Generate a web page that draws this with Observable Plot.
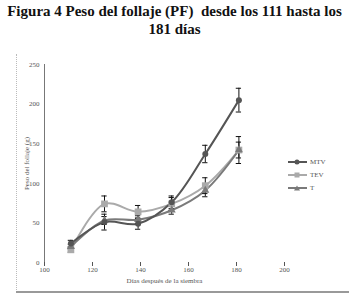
<!DOCTYPE html>
<html><head><meta charset="utf-8">
<script src="https://cdn.jsdelivr.net/npm/d3@7"></script>
<script src="https://cdn.jsdelivr.net/npm/@observablehq/plot@0.6"></script>
<style>
body{margin:0;background:#fff;width:349px;height:297px;overflow:hidden;position:relative;font-family:'Liberation Serif','Times New Roman',serif}
#title{position:absolute;left:0;top:0;width:349px;text-align:center;font-family:'Liberation Serif','Times New Roman',serif;font-weight:bold;font-size:15px;line-height:18px;padding-top:2px;color:#111;white-space:nowrap}
#chart{position:absolute;left:0;top:40px}
#frameL{position:absolute;left:16px;top:54px;height:238px;border-left:1px dotted #bbb}
#frameB{position:absolute;left:16px;top:291px;width:333px;border-bottom:2px solid #999}
#legend{position:absolute;left:288px;top:155px;font-size:7px;color:#555}
#legend div{height:13px;display:flex;align-items:center}
#legend svg{margin-right:3px}
</style></head>
<body>
<div id="title">Figura 4 Peso del follaje (PF)&nbsp; desde los 111 hasta los<br>181 días</div>
<div id="frameL"></div>
<div id="frameB"></div>
<div id="chart"></div>
<div id="legend"></div>
<script>
const days = [111, 125, 139, 153, 167, 181];
const seriesNames = ["MTV", "TEV", "T"];
const mtv = [24, 51, 49, 76, 137, 205];
const tev = [16, 74, 64, 74, 97, 142];
const t = [20, 53, 54, 66, 91, 142];
const mtvErr = [4, 10, 7, 8, 11, 15];
const tevErr = [3, 10, 8, 8, 10, 17];
const tErr = [3, 5, 5, 5, 8, 10];
const xTicks = [100, 120, 140, 160, 180, 200];
const yTicks = [0, 50, 100, 150, 200, 250];

const colors = {MTV: "#555", TEV: "#aaa", T: "#7a7a7a"};
const symbols = {MTV: "circle", TEV: "square", T: "triangle"};
const vals = {MTV: mtv, TEV: tev, T: t};
const errs = {MTV: mtvErr, TEV: tevErr, T: tErr};
const data = seriesNames.flatMap(s => days.map((d, i) => ({series: s, day: d, v: vals[s][i], e: errs[s][i]})));
const order = ["TEV", "T", "MTV"];
const marks = [];
for (const s of order) {
  const sd = data.filter(r => r.series === s);
  marks.push(Plot.line(sd, {x: "day", y: "v", stroke: colors[s], strokeWidth: 2, curve: "catmull-rom"}));
}
marks.push(Plot.ruleX(data, {x: "day", y1: d => d.v - d.e, y2: d => d.v + d.e, stroke: "#111", strokeWidth: 1}));
marks.push(Plot.ruleY(data, {y: d => d.v - d.e, x1: d => d.day - 1.1, x2: d => d.day + 1.1, stroke: "#111", strokeWidth: 1}));
marks.push(Plot.ruleY(data, {y: d => d.v + d.e, x1: d => d.day - 1.1, x2: d => d.day + 1.1, stroke: "#111", strokeWidth: 1}));
for (const s of order) {
  const sd = data.filter(r => r.series === s);
  marks.push(Plot.dot(sd, {x: "day", y: "v", fill: colors[s], symbol: symbols[s], r: s === "TEV" ? 3.8 : 3}));
}
marks.push(Plot.ruleX([0], {x: 100, stroke: "#777", strokeWidth: 1}));
marks.push(Plot.axisY({ticks: yTicks, tickSize: 0, tickPadding: 5, label: "Peso del follaje (g)", labelAnchor: "center", labelArrow: false, labelOffset: 20, fontSize: 7}));
marks.push(Plot.axisX({ticks: xTicks, tickSize: 4, tickPadding: 1, label: "Días después de la siembra", labelAnchor: "center", labelArrow: false, labelOffset: 20, fontSize: 7}));

const plot = Plot.plot({
  width: 349, height: 257,
  marginLeft: 44, marginRight: 65, marginTop: 24, marginBottom: 35,
  x: {domain: [100, 200]},
  y: {domain: [0, 250]},
  style: {fontFamily: "'Liberation Serif', 'Times New Roman', serif", fontSize: "7px", color: "#555", background: "transparent"},
  marks
});
document.getElementById("chart").appendChild(plot);

const leg = document.getElementById("legend");
for (const s of seriesNames) {
  const row = document.createElement("div");
  const sym = s === "MTV" ? '<circle cx="9" cy="3" r="2.5" fill="' + colors[s] + '"/>' :
              s === "TEV" ? '<rect x="6.5" y="0.5" width="5" height="5" fill="' + colors[s] + '"/>' :
              '<path d="M9,0.5L12,5.5L6,5.5Z" fill="' + colors[s] + '"/>';
  row.innerHTML = '<svg width="19" height="6"><line x1="0" x2="19" y1="3" y2="3" stroke="' + colors[s] + '" stroke-width="2"/>' + sym + '</svg><span>' + s + '</span>';
  leg.appendChild(row);
}
</script>
</body></html>
